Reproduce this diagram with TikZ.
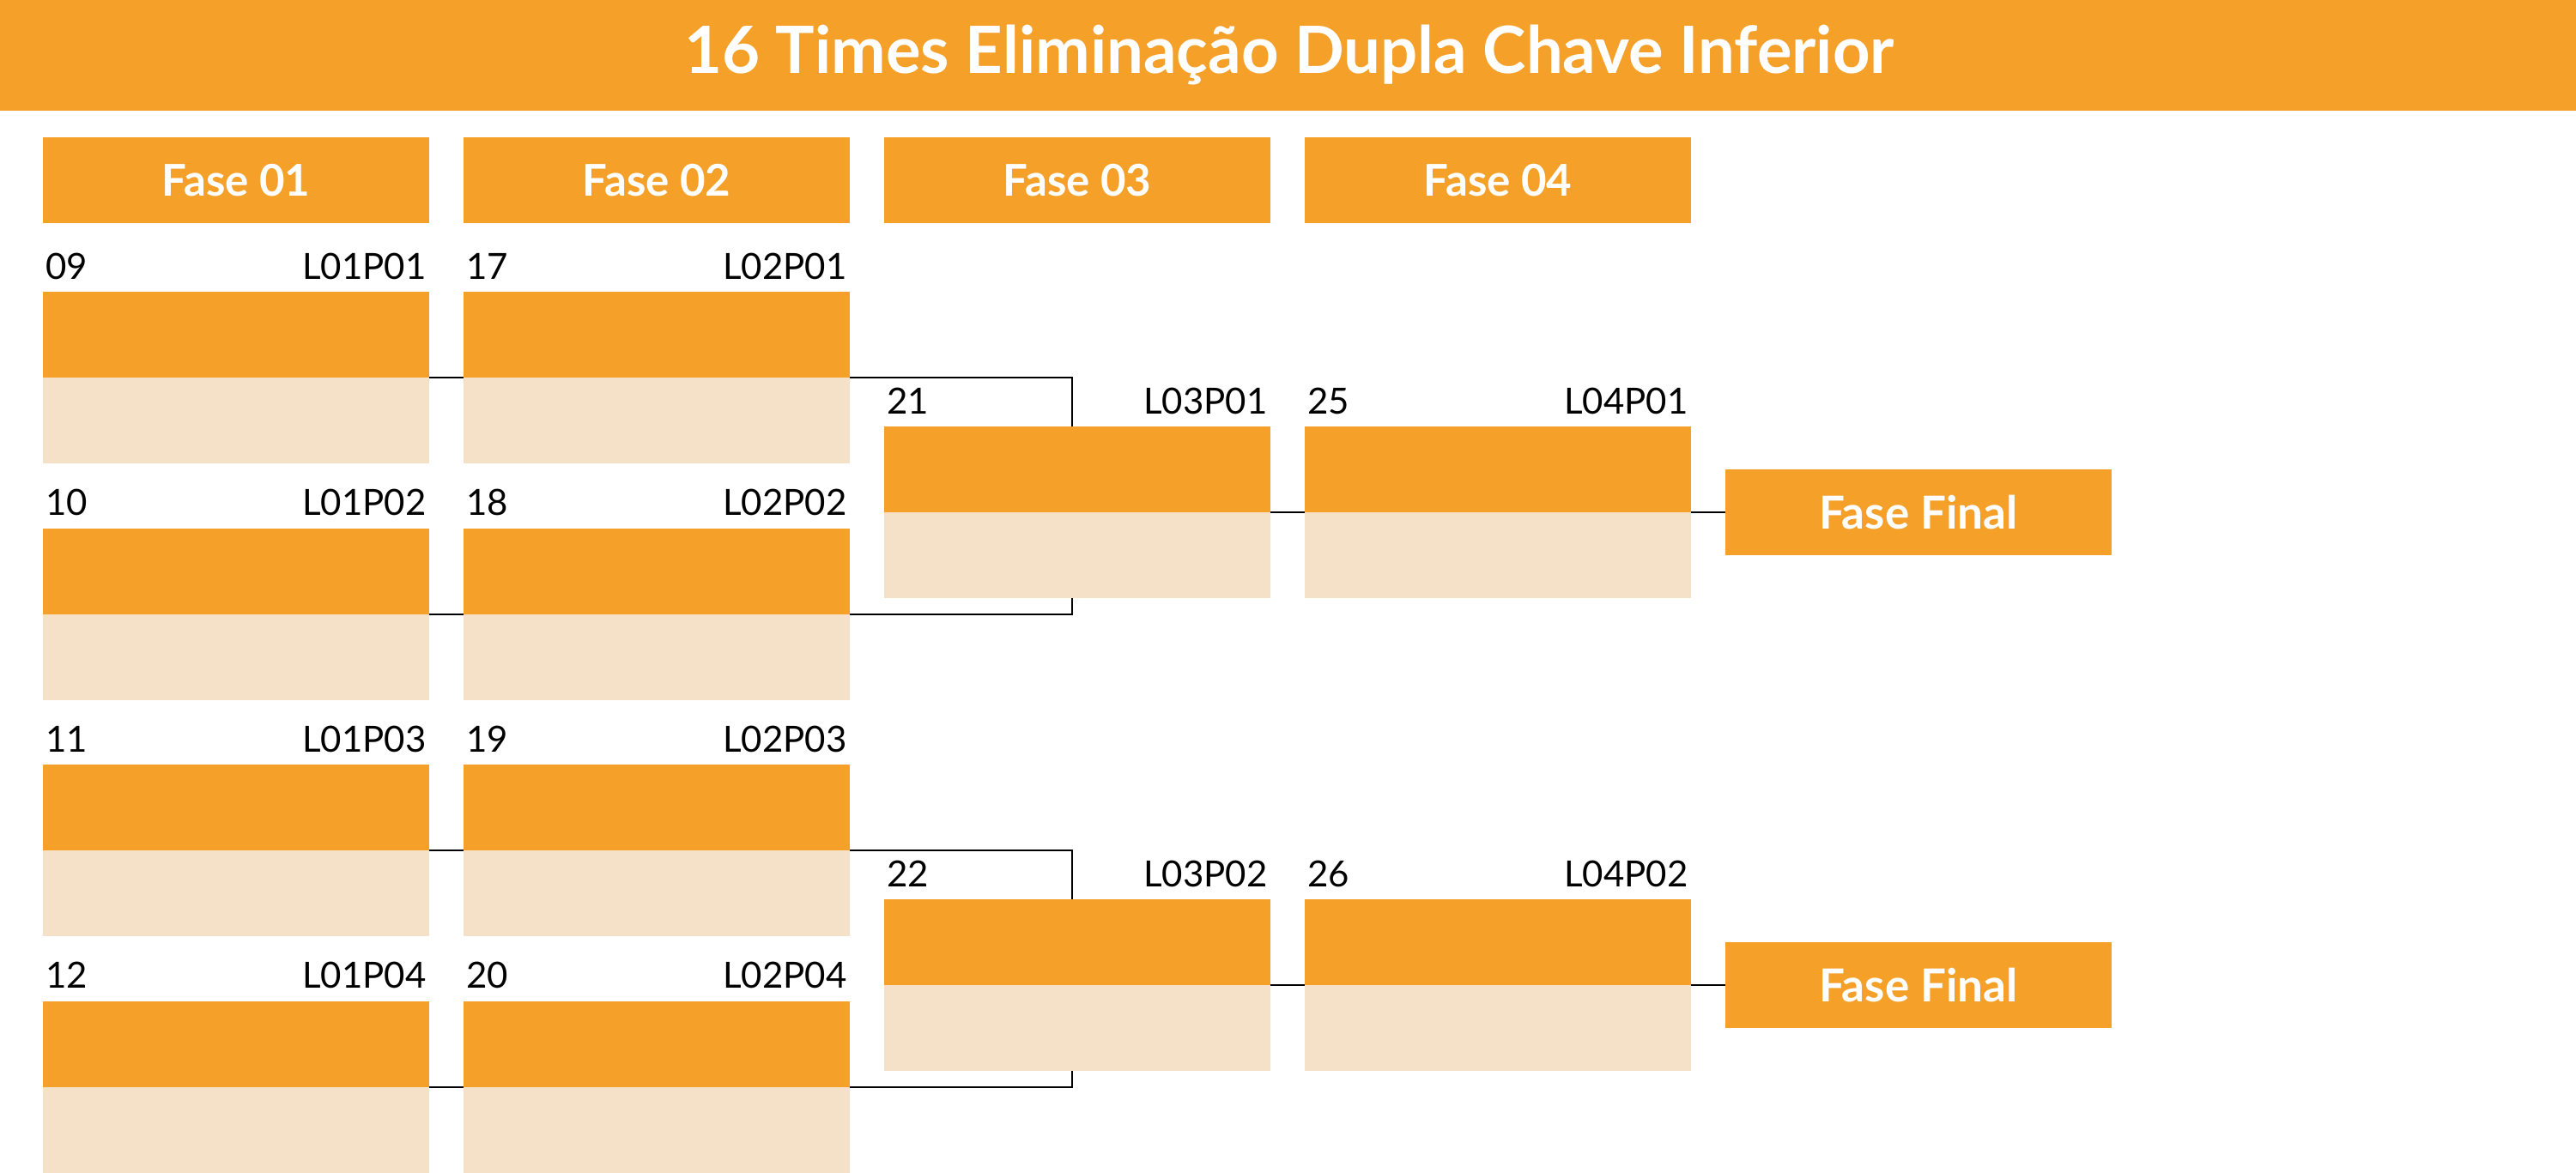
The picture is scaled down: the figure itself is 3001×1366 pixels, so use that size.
\documentclass[tikz,border=0pt]{standalone}
\usepackage{fontspec}
\setmainfont{Lato}
\usetikzlibrary{calc}
\definecolor{orangeA}{RGB}{244,160,41}
\definecolor{lightA}{RGB}{245,225,200}
\begin{document}
\begin{tikzpicture}[x=0.5pt,y=-0.5pt,
  topbox/.style={fill=orangeA,draw=none,minimum width=225pt,minimum height=50pt,inner sep=0pt,outer sep=0pt,anchor=north west},
  botbox/.style={fill=lightA,draw=none,minimum width=225pt,minimum height=50pt,inner sep=0pt,outer sep=0pt,anchor=north west},
  headbox/.style={fill=orangeA,draw=none,minimum width=225pt,minimum height=50pt,inner sep=0pt,outer sep=0pt,anchor=north west,text=white,font=\fontsize{25.5}{27}\selectfont\bfseries},
  finalbox/.style={headbox,font=\fontsize{26.5}{28}\selectfont\bfseries},
  lbl/.style={inner sep=0pt,font=\fontsize{21}{24}\selectfont,text=black},
  conn/.style={draw=black,line width=1pt}]
\useasboundingbox (0,0) rectangle (3001,1366);
% title
\node[fill=orangeA,minimum width=1500.5pt,minimum height=64.5pt,inner sep=0pt,anchor=north west] (titlebar) at (0,0) {};
\node[text=white,font=\fontsize{38}{42}\selectfont\bfseries,inner sep=0pt] (title) at (1502,64) {16 Times Eliminação Dupla Chave Inferior};
% phase headers
\node[headbox] (h1) at (50,160) {Fase 01};
\node[headbox] (h2) at (540,160) {Fase 02};
\node[headbox] (h3) at (1030,160) {Fase 03};
\node[headbox] (h4) at (1520,160) {Fase 04};
% match macro
\newcommand{\matchbox}[5]{%
  \node[topbox] (#1t) at (#2,#3) {};
  \node[botbox] (#1b) at (#2,#3+100) {};
  \node[lbl,anchor=base west] (#1n) at ($(#1t.north west)+(3,-15)$) {#4};
  \node[lbl,anchor=base east] (#1c) at ($(#1t.north east)+(-3,-15)$) {#5};
}
\matchbox{m09}{50}{340}{09}{L01P01}
\matchbox{m10}{50}{615.5}{10}{L01P02}
\matchbox{m11}{50}{891}{11}{L01P03}
\matchbox{m12}{50}{1166.5}{12}{L01P04}
\matchbox{m17}{540}{340}{17}{L02P01}
\matchbox{m18}{540}{615.5}{18}{L02P02}
\matchbox{m19}{540}{891}{19}{L02P03}
\matchbox{m20}{540}{1166.5}{20}{L02P04}
\matchbox{m21}{1030}{497}{21}{L03P01}
\matchbox{m22}{1030}{1048}{22}{L03P02}
\matchbox{m25}{1520}{497}{25}{L04P01}
\matchbox{m26}{1520}{1048}{26}{L04P02}
% final
\node[finalbox] (f1) at (2010,547) {Fase Final};
\node[finalbox] (f2) at (2010,1098) {Fase Final};
% connectors
\draw[conn] (m09t.south east) -- (m17t.south west);
\draw[conn] (m10t.south east) -- (m18t.south west);
\draw[conn] (m11t.south east) -- (m19t.south west);
\draw[conn] (m12t.south east) -- (m20t.south west);
\draw[conn] (m17t.south east) -| ($(m21t.north)+(-6,0)$);
\draw[conn] (m18t.south east) -| ($(m21b.south)+(-6,0)$);
\draw[conn] (m19t.south east) -| ($(m22t.north)+(-6,0)$);
\draw[conn] (m20t.south east) -| ($(m22b.south)+(-6,0)$);
\draw[conn] (m21t.south east) -- (m25t.south west);
\draw[conn] (m22t.south east) -- (m26t.south west);
\draw[conn] (m25t.south east) -- (f1.west);
\draw[conn] (m26t.south east) -- (f2.west);
\end{tikzpicture}
\end{document}
